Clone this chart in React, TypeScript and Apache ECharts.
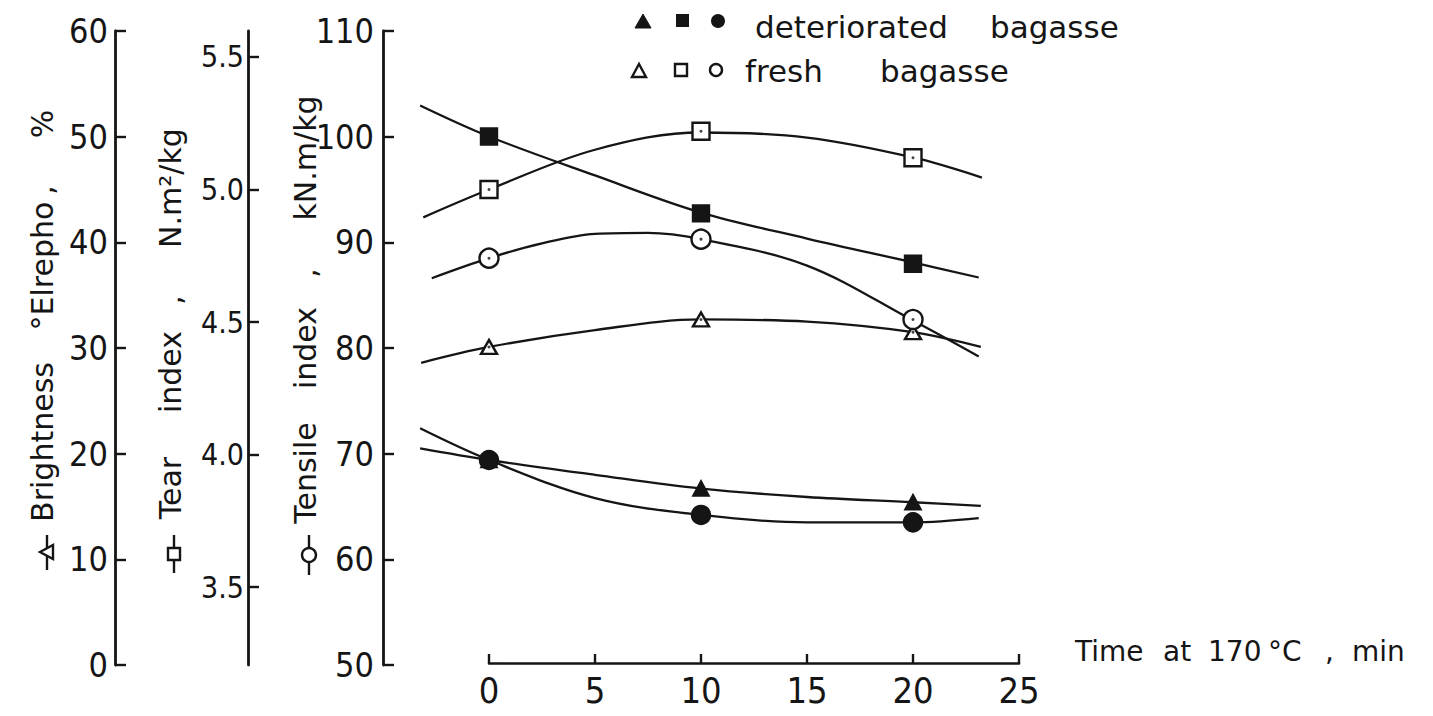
import React, { useEffect, useRef } from "react";
import * as echarts from "echarts";

// ---- data ----
const TIME_MIN = [0, 10, 20];
const X_TICKS = [0, 5, 10, 15, 20, 25];
const BRIGHTNESS_TICKS = [0, 10, 20, 30, 40, 50, 60];
const TEAR_TICKS = [3.5, 4.0, 4.5, 5.0, 5.5];
const TENSILE_TICKS = [50, 60, 70, 80, 90, 100, 110];

// measured points (fresh = open symbols, deteriorated = filled symbols)
const BRIGHTNESS_FRESH = [30.1, 32.7, 31.5];
const BRIGHTNESS_DET = [19.4, 16.7, 15.4];
const TEAR_FRESH = [5.0, 5.22, 5.12];
const TEAR_DET = [5.2, 4.91, 4.72];
const TENSILE_FRESH = [88.5, 90.3, 82.7];
const TENSILE_DET = [69.4, 64.2, 63.5];

// fitted curves as drawn in the figure: [time, value]
const BRIGHTNESS_FRESH_FIT = [[-3.2, 28.6], [0, 30.1], [5, 31.7], [10, 32.7], [15, 32.5], [20, 31.5], [23.2, 30.1]];
const BRIGHTNESS_DET_FIT = [[-3.25, 20.5], [0, 19.4], [5, 18.0], [10, 16.7], [15, 15.9], [20, 15.4], [23.2, 15.05]];
const TEAR_FRESH_FIT = [[-3.1, 4.895], [0, 5.0], [5, 5.15], [10, 5.215], [15, 5.196], [20, 5.121], [23.25, 5.045]];
const TEAR_DET_FIT = [[-3.25, 5.317], [0, 5.2], [5, 5.053], [10, 4.913], [15, 4.815], [20, 4.725], [23.1, 4.668]];
const TENSILE_FRESH_FIT = [[-2.7, 86.6], [0, 88.5], [2.5, 89.9], [5, 90.8], [7.5, 90.9], [10, 90.3], [15, 87.8], [20, 82.6], [23.1, 79.2]];
const TENSILE_DET_FIT = [[-3.25, 72.4], [0, 69.4], [5, 65.8], [10, 64.2], [15, 63.5], [20, 63.5], [23.1, 63.9]];

const INK = "#151515";
const FONT = "'DejaVu Sans', sans-serif";
const FONT_C = "'DejaVu Sans Condensed', 'DejaVu Sans', sans-serif";

const pts = (vals: number[]) => TIME_MIN.map((t, i) => [t, vals[i]]);

function fitLine(data: number[][], yAxisIndex: number) {
  return {
    type: "line",
    xAxisIndex: 0,
    yAxisIndex,
    data,
    smooth: 0.35,
    showSymbol: false,
    symbol: "none",
    silent: true,
    lineStyle: { color: INK, width: 2.3 },
    z: 2,
  };
}

function marks(vals: number[], yAxisIndex: number, symbol: string, filled: boolean, size: any) {
  return {
    type: "scatter",
    xAxisIndex: 0,
    yAxisIndex,
    data: pts(vals),
    symbol,
    symbolSize: size,
    itemStyle: { color: filled ? INK : "#fff", borderColor: INK, borderWidth: 2.4, opacity: 1 },
    z: 3,
  };
}

function dots(vals: number[], yAxisIndex: number) {
  return {
    type: "scatter",
    xAxisIndex: 0,
    yAxisIndex,
    data: pts(vals),
    symbol: "circle",
    symbolSize: 3,
    silent: true,
    itemStyle: { color: INK },
    z: 4,
  };
}

function vText(text: string, x: number, y: number, size = 30) {
  return {
    type: "text",
    x,
    y,
    rotation: Math.PI / 2,
    silent: true,
    style: {
      text,
      font: `${size}px ${FONT}`,
      fill: INK,
      align: "center",
      verticalAlign: "middle",
      textAlign: "center",
      textVerticalAlign: "middle",
    },
  };
}

function hText(text: string, x: number, y: number, size = 30, align = "center") {
  return {
    type: "text",
    x,
    y,
    silent: true,
    style: {
      text,
      font: `${size}px ${FONT}`,
      fill: INK,
      align,
      verticalAlign: "middle",
      textAlign: align,
      textVerticalAlign: "middle",
    },
  };
}

const stroke = { stroke: INK, lineWidth: 2.4 };

function yAxisBase(min: number, max: number, offset: number, ticks: number[], fontSize: number, margin: number, digits: number) {
  return {
    type: "value",
    gridIndex: 0,
    position: "left",
    min,
    max,
    offset,
    splitLine: { show: false },
    axisLine: { show: true, onZero: false, lineStyle: { color: INK, width: 2.8 } },
    axisTick: { show: true, inside: true, length: 11, customValues: ticks, lineStyle: { color: INK, width: 2.4 } },
    axisLabel: {
      show: true,
      customValues: ticks,
      fontSize,
      fontFamily: FONT_C,
      color: INK,
      margin,
      formatter: (v: number) => v.toFixed(digits),
    },
  };
}

export default function App() {
  const ref = useRef<HTMLDivElement>(null);

  useEffect(() => {
    if (!ref.current) return;
    const chart = echarts.init(ref.current, undefined, { renderer: "svg" });
    const option: any = {
      animation: false,
      backgroundColor: "#ffffff",
      grid: [
        { left: 383, top: 31, width: 636, height: 634 },
        { left: 489, top: 31, width: 530, height: 632 },
      ],
      xAxis: [
        { type: "value", gridIndex: 0, min: -5, max: 25, show: false },
        {
          type: "value",
          gridIndex: 1,
          min: 0,
          max: 25,
          interval: 5,
          splitLine: { show: false },
          axisLine: { show: true, onZero: false, lineStyle: { color: INK, width: 2.6 } },
          axisTick: { show: true, inside: true, length: 9, customValues: X_TICKS, lineStyle: { color: INK, width: 2.4 } },
          axisLabel: { customValues: X_TICKS, fontSize: 36, fontFamily: FONT_C, color: INK, margin: 9 },
        },
      ],
      yAxis: [
        yAxisBase(0, 60, 268, BRIGHTNESS_TICKS, 34, 7, 0),
        yAxisBase(3.206, 5.598, 135, TEAR_TICKS, 30, 4, 1),
        yAxisBase(50, 110, 0, TENSILE_TICKS, 34, 9, 0),
        { type: "value", gridIndex: 1, min: 0, max: 1, show: false },
      ],
      series: [
        fitLine(BRIGHTNESS_FRESH_FIT, 0),
        fitLine(BRIGHTNESS_DET_FIT, 0),
        fitLine(TEAR_FRESH_FIT, 1),
        fitLine(TEAR_DET_FIT, 1),
        fitLine(TENSILE_FRESH_FIT, 2),
        fitLine(TENSILE_DET_FIT, 2),
        marks(BRIGHTNESS_FRESH, 0, "triangle", false, [16, 14]),
        marks(BRIGHTNESS_DET, 0, "triangle", true, [15, 14]),
        marks(TEAR_FRESH, 1, "rect", false, 17),
        marks(TEAR_DET, 1, "rect", true, 16),
        marks(TENSILE_FRESH, 2, "circle", false, 19),
        marks(TENSILE_DET, 2, "circle", true, 18),
        dots(BRIGHTNESS_FRESH, 0),
        dots(TEAR_FRESH, 1),
        dots(TENSILE_FRESH, 2),
      ],
      graphic: [
        // axis titles (reading upward)
        { type: "line", shape: { x1: 47, y1: 535, x2: 47, y2: 570 }, style: stroke, silent: true },
        { type: "polygon", shape: { points: [[40, 552], [53, 545], [53, 559]] }, style: { ...stroke, fill: "#fff" }, silent: true },
        vText("Brightness", 42, 442),
        vText("°Elrepho", 42, 266),
        vText(",", 42, 190),
        vText("%", 42, 124),

        { type: "line", shape: { x1: 174, y1: 535, x2: 174, y2: 573 }, style: stroke, silent: true },
        { type: "rect", shape: { x: 168, y: 548, width: 12, height: 12 }, style: { ...stroke, fill: "#fff" }, silent: true },
        vText("Tear", 170, 488),
        vText("index", 170, 372),
        vText(",", 170, 300),
        vText("N.m²/kg", 170, 188),

        { type: "line", shape: { x1: 309, y1: 535, x2: 309, y2: 575 }, style: stroke, silent: true },
        { type: "circle", shape: { cx: 309, cy: 555, r: 7 }, style: { ...stroke, fill: "#fff" }, silent: true },
        vText("Tensile", 305, 473),
        vText("index", 305, 348),
        vText(",", 305, 273),
        vText("kN.m/kg", 305, 158),

        // x axis title
        hText("Time", 1075, 651, 28, "left"),
        hText("at", 1163, 651, 28, "left"),
        hText("170", 1208, 651, 28, "left"),
        hText("°C", 1268, 651, 28, "left"),
        hText(",", 1325, 651, 28, "left"),
        hText("min", 1352, 651, 28, "left"),

        // legend
        { type: "polygon", shape: { points: [[643, 14], [651, 28], [635, 28]] }, style: { fill: INK, stroke: INK, lineWidth: 1 }, silent: true },
        { type: "rect", shape: { x: 676, y: 14, width: 13, height: 13 }, style: { fill: INK }, silent: true },
        { type: "circle", shape: { cx: 718, cy: 21, r: 7 }, style: { fill: INK }, silent: true },
        hText("deteriorated", 755, 27, 31, "left"),
        hText("bagasse", 990, 27, 31, "left"),

        { type: "polygon", shape: { points: [[639, 64], [646, 77], [632, 77]] }, style: { ...stroke, fill: "#fff" }, silent: true },
        { type: "rect", shape: { x: 675, y: 64, width: 12, height: 12 }, style: { ...stroke, fill: "#fff" }, silent: true },
        { type: "circle", shape: { cx: 716, cy: 70, r: 6 }, style: { ...stroke, fill: "#fff" }, silent: true },
        hText("fresh", 745, 71, 31, "left"),
        hText("bagasse", 880, 71, 31, "left"),
      ],
    };
    chart.setOption(option);
    return () => chart.dispose();
  }, []);

  return (
    <div
      ref={ref}
      style={{ position: "fixed", left: 0, top: 0, width: 1433, height: 716, background: "#fff" }}
    />
  );
}
